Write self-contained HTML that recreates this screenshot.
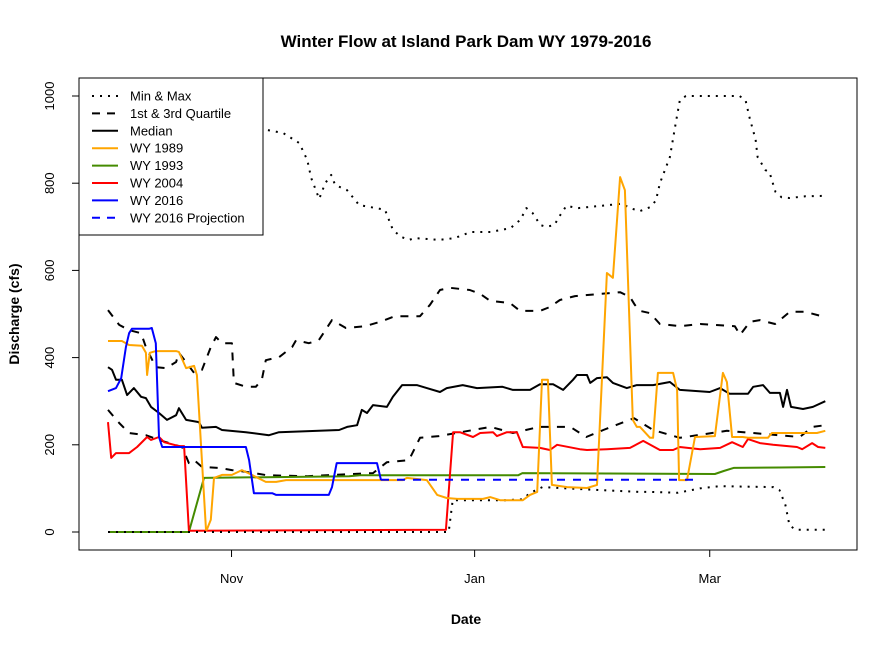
<!DOCTYPE html>
<html><head><meta charset="utf-8"><style>
body{margin:0;background:#fff}
svg{display:block;font-family:"Liberation Sans",Arial,sans-serif}
</style></head><body>
<svg id="chart" width="896" height="648" viewBox="0 0 896 648" xmlns="http://www.w3.org/2000/svg">
<rect x="0" y="0" width="896" height="648" fill="#fff"/>
<text x="466" y="47" text-anchor="middle" font-size="17" font-weight="bold">Winter Flow at Island Park Dam WY 1979-2016</text>
<text x="466" y="624" text-anchor="middle" font-size="14" font-weight="bold">Date</text>
<text x="0" y="0" transform="translate(19,314) rotate(-90)" text-anchor="middle" font-size="14" font-weight="bold">Discharge (cfs)</text>
<g id="plot"></g>
<rect x="79" y="78" width="778" height="472" fill="none" stroke="#000" stroke-width="1"/>
<g id="legend"></g>
</svg>
<script>
const xTickDays = [31, 92, 151];
const xTickLabels = ["Nov", "Jan", "Mar"];
const yTicks = [0, 200, 400, 600, 800, 1000];

const maxDays = [0,40,44,48,50,51,53,54.5,56,57,60,63,66,69.5,71.5,73.5,75.5,77,83,87,91,96,101,103.5,105,106.5,108.5,110,112,113.5,115,118,123.5,129,131,133.5,136,137.5,138.5,141,142.5,143.5,145,158.5,160,161,162.5,163,165,166,167.5,169,171,175,180];
const maxVals = [930,922,915,892,853,812,764,800,819,796,784,750,745,739,693,677,670,674,670,674,688,688,697,716,743,732,704,700,704,727,748,743,748,753,743,736,745,760,800,860,940,990,1000,1000,990,950,900,860,830,825,780,768,766,770,771];

const minDays = [0,85.5,86.5,100,104,106,109,123.5,133.5,136,143,148.5,153.5,167,168.5,170,171,172.5,180];
const minVals = [0,0,73,73,75,90,103,96,92,92,90,100,105,103,96,62,16,5,5];

const q3Days = [0,2.8,5.3,8.3,9.5,12,14.6,17.1,17.8,21.6,23.6,25.8,27.1,28.6,31.1,31.6,34.6,37.1,38.6,39.6,42.9,46.2,47.2,50.4,52.9,56.2,59.7,64.5,68.3,72,78.3,80.8,83.3,85.8,90.8,93.4,95.9,100.9,103.4,108.4,110.9,113.4,117.2,123.5,128.5,131,132.2,133.5,136,138.5,143.5,148.6,153.6,157.3,158.6,161.1,163.6,167.4,171.1,174.9,180];
const q3Vals = [509,475,463,456,424,378,376,390,411,365,372,424,447,433,433,342,333,333,349,394,401,424,440,433,440,486,468,472,482,495,495,521,555,560,555,546,530,525,507,507,516,532,541,546,550,539,521,507,502,477,472,477,474,472,452,482,486,477,505,505,493];

const q1Days = [0,2.8,5.3,9.5,12.8,18.6,20.3,21.6,23.6,27.9,31.1,34.6,40,50,66.5,70,75.5,78.3,83,96,101.6,108.2,116,120,124.3,132,136.8,143.5,155.3,173.6,176.8,180];
const q1Vals = [280,250,227,222,211,195,158,165,149,147,142,138,130,128,135,160,165,216,220,241,227,241,241,218,234,261,234,216,232,218,241,245];

const medDays = [0,1,2,3.5,4.8,6.5,8.3,9.5,10.8,12.8,14.8,17.1,17.8,19.6,22.8,23.6,27.1,28.6,34.6,40.4,42.9,58,60,62.5,63.7,65,66.5,70,71.5,73.8,77.5,80,83.3,85,89,92.6,99,101.6,105.9,108.4,111.7,114.2,116.7,117.7,120.2,121,122.7,125.2,126.7,130.2,132.7,136.8,141,143.5,151,153.6,156,160.6,161.9,164.4,166.1,168.6,169.4,170.4,171.4,174.4,176.9,180];
const medVals = [378,372,349,349,314,330,310,307,287,273,257,268,284,257,252,239,241,234,229,222,229,234,241,245,280,273,291,287,310,337,337,330,321,330,337,330,333,326,326,339,339,326,349,360,360,342,353,355,342,330,337,337,344,326,321,330,317,317,333,337,319,319,287,326,287,282,287,300];

const wy1989Days = [0,3.5,5.3,8.5,9.5,9.8,10.5,12,17.1,17.8,19.6,21.6,22.3,24.6,24.8,25.8,26.6,28.6,31.1,33.6,36.1,39.6,42.2,44.7,74,75,80,82.6,85,87.6,94.1,95.9,98.4,104.1,105.9,107.7,108.9,110.4,111.4,115.2,120.2,122.7,125.2,126.7,128.5,129.7,131.7,132.7,133.5,136,136.8,138,141,141.8,142.8,143.3,145.3,147.3,152.3,154.3,155.3,156.6,159.3,160.6,165.6,166.6,177.9,180];
const wy1989Vals = [438,438,429,427,411,360,411,415,415,413,376,381,360,5,5,28,124,131,131,142,131,115,115,119,119,124,119,85,78,76,76,80,73,73,85,92,349,349,108,103,101,108,594,583,814,784,257,241,241,216,216,365,365,365,326,119,119,218,220,365,344,218,218,216,216,227,227,232];

const wy1993Days = [0,20.3,24.1,60.5,63.2,102.9,104,152.3,154.5,157,168.6,180];
const wy1993Vals = [0,0,124,128,130,130,135,133,140,147,148,149];

const wy2004Days = [0,0.8,2,5.3,7.3,9.8,10.8,12.8,14.1,17.8,19.1,20.3,84.8,86.6,88.3,91.6,93.4,96.6,97.6,100.1,102.6,104.1,108.4,110.9,112.7,118.4,120.2,125.2,131,134.3,138.5,141.8,143.5,148.6,153.6,156.6,159.3,160.6,163.6,166.9,172.9,174.2,176.7,178.2,180];
const wy2004Vals = [252,170,181,181,195,218,211,218,206,197,197,3,5,229,229,218,227,229,220,229,229,195,193,188,200,190,188,190,193,209,188,188,195,190,193,206,195,213,204,200,195,190,204,195,193];

const wy2016Days = [0,2,3.3,4.5,5.3,6,10.3,11,12,12.8,13.6,34.6,35.4,36.6,41.2,42.2,55.4,56.2,57.4,60.5,67.5,68.5];
const wy2016Vals = [323,330,353,424,456,466,466,468,433,218,195,195,165,89,89,85,85,103,158,158,158,119];

const projDays = [68.5, 148];
const projVals = [120, 120];

const NS = "http://www.w3.org/2000/svg";
function xScale(d){ return 108 + d * 3.985; }
function yScale(v){ return 532 - v * 0.436; }
const plot = document.getElementById('plot');
const svg = document.getElementById('chart');

function mk(tag, attrs, parent){
  const el = document.createElementNS(NS, tag);
  for (const k in attrs) el.setAttribute(k, attrs[k]);
  parent.appendChild(el);
  return el;
}

xTickDays.forEach((d, i) => {
  const t = mk('line', {x1: xScale(d), x2: xScale(d), y1: 550, y2: 557, stroke: '#000'}, svg);
  
  
  const l = mk('text', {x: xScale(d), y: 583, 'text-anchor': 'middle', 'font-size': 13}, svg);
  l.textContent = xTickLabels[i];
  
  
});
yTicks.forEach(v => {
  const t = mk('line', {x1: 72, x2: 79, y1: yScale(v), y2: yScale(v), stroke: '#000'}, svg);
  
  
  const l = mk('text', {x: 0, y: 0, transform: 'translate(54,' + yScale(v) + ') rotate(-90)', 'text-anchor': 'middle', 'font-size': 13}, svg);
  l.textContent = String(v);
  
  
});

function series(days, vals, color, dash, name){
  const pts = days.map((d, i) => xScale(d).toFixed(1) + ',' + yScale(vals[i]).toFixed(1)).join(' ');
  const p = mk('polyline', {points: pts, fill: 'none', stroke: color, 'stroke-width': 2, 'stroke-linejoin': 'round'}, plot);
  if (dash) p.setAttribute('stroke-dasharray', dash);
  
  
}
series(maxDays, maxVals, '#000', '2,6', 'max-line');
series(q3Days, q3Vals, '#000', '8,8', 'third-quartile-line');
series(medDays, medVals, '#000', null, 'median-line');
series(q1Days, q1Vals, '#000', '8,8', 'first-quartile-line');
series(wy1993Days, wy1993Vals, '#458b00', null, 'wy1993-line');
series(wy2004Days, wy2004Vals, '#ff0000', null, 'wy2004-line');
series(minDays, minVals, '#000', '2,6', 'min-line');
series(wy1989Days, wy1989Vals, '#ffa500', null, 'wy1989-line');
series(wy2016Days, wy2016Vals, '#0000ff', null, 'wy2016-line');
series(projDays, projVals, '#0000ff', '8,8', 'wy2016-projection-line');

const leg = document.getElementById('legend');
const lb = mk('rect', {x: 79, y: 78, width: 184, height: 157, fill: '#fff', stroke: '#000'}, leg);


const legLabels = ['Min & Max','1st & 3rd Quartile','Median','WY 1989','WY 1993','WY 2004','WY 2016','WY 2016 Projection'];
const legColors = ['#000','#000','#000','#ffa500','#458b00','#ff0000','#0000ff','#0000ff'];
const legDash = ['2,6','8,7',null,null,null,null,null,'8,7'];
legLabels.forEach((lab, i) => {
  const y = 96 + i * 17.4;
  const g = mk('g', {}, leg);
  
  
  const ln = mk('line', {x1: 92, x2: 118, y1: y, y2: y, stroke: legColors[i], 'stroke-width': 2}, g);
  if (legDash[i]) ln.setAttribute('stroke-dasharray', legDash[i]);
  const t = mk('text', {x: 130, y: y + 4.5, 'font-size': 13}, g);
  t.textContent = lab;
});
</script>
</body></html>
